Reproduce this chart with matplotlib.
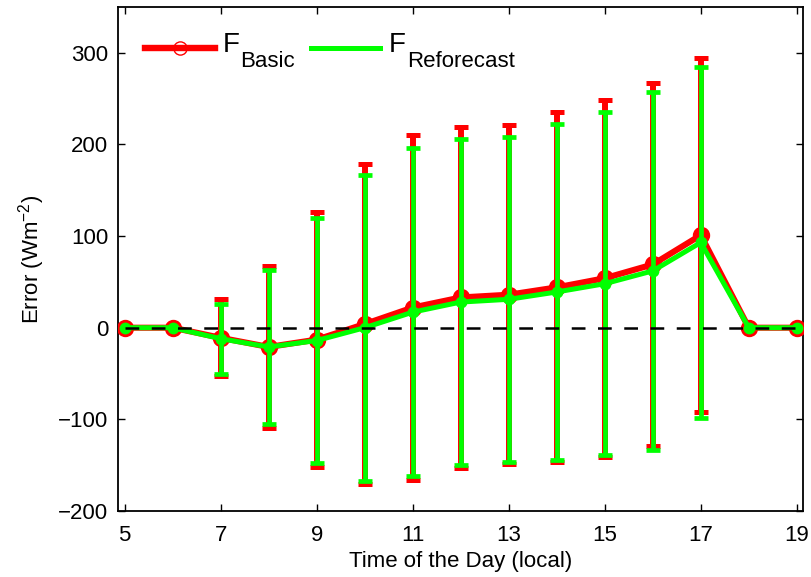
import numpy as np
import matplotlib
matplotlib.use('Agg')
import matplotlib.pyplot as plt

plt.rcParams['font.family'] = ['Liberation Sans', 'DejaVu Sans']
plt.rcParams['mathtext.default'] = 'regular'

# Hora local y error medio +- desviación
horas = np.arange(5, 20)
err_basic = np.array([0, 0, -11, -21, -13, 4, 22, 33, 36, 44, 54, 69, 101, 0, 0])
std_basic = np.array([0, 0, 42, 88, 139, 175, 188, 186, 185, 191, 195, 198, 193, 0, 0])
err_refc = np.array([0, 0, -12, -21, -14, 0, 17, 28, 31, 39, 48, 62, 93, 0, 0])
std_refc = np.array([0, 0, 38, 84, 134, 167, 179, 178, 177, 183, 187, 195, 191, 0, 0])

rojo = '#ff0000'
verde = '#00ff00'

fig = plt.figure(figsize=(8.12, 5.77), dpi=100)
ax = fig.add_axes([0.1453, 0.1144, 0.8436, 0.8735])

# F_Basic (debajo)
m = std_basic > 0
ax.errorbar(horas[m], err_basic[m], yerr=std_basic[m], fmt='none', ecolor=rojo,
            elinewidth=4.3, capsize=4.7, capthick=3.6, zorder=2)
ax.plot(horas, err_basic, '-o', color=rojo, lw=4.4, ms=10, mew=2.5,
        mfc=rojo, mec=rojo, zorder=3)

# F_Reforecast (encima)
m = std_refc > 0
ax.errorbar(horas[m], err_refc[m], yerr=std_refc[m], fmt='none', ecolor=verde,
            elinewidth=3.4, capsize=4.7, capthick=3.4, zorder=4)
ax.plot(horas, err_refc, '-o', color=verde, lw=3.6, ms=8.5, mew=0,
        mfc=verde, zorder=5)

# línea de cero
ax.plot([5, 19], [0, 0], color='k', lw=1.8, dashes=(5.5, 5.0), zorder=6)

ax.set_xlim(4.86, 19.13)
ax.set_ylim(-200, 350)
ax.set_xticks(np.arange(5, 20, 2))
ax.set_yticks(np.arange(-200, 301, 100))
ax.tick_params(direction='in', top=True, right=True, length=5, width=1,
               labelsize=16, pad=10)
ax.tick_params(axis='y', pad=7)
for s in ax.spines.values():
    s.set_linewidth(1.3)

ax.set_xlabel('Time of the Day (local)', fontsize=16, labelpad=4)
ax.set_ylabel('Error (Wm$^{-2}$)', fontsize=16, labelpad=8)

# leyenda a mano (subíndices grandes, como en MATLAB)
tr = ax.transAxes
ax.plot([0.0394, 0.1416], [0.9192, 0.9192], color=rojo, lw=4.6,
        transform=tr, clip_on=False, zorder=7)
ax.plot([0.0905], [0.9192], 'o', ms=9.5, mfc='none', mec=rojo, mew=1,
        transform=tr, clip_on=False, zorder=8)
ax.text(0.1533, 0.9113, 'F', fontsize=20, va='baseline', transform=tr)
ax.text(0.1781, 0.8815, 'Basic', fontsize=16, va='baseline', transform=tr)

ax.plot([0.2813, 0.3825], [0.9192, 0.9192], color=verde, lw=3.6,
        transform=tr, clip_on=False, zorder=7)
ax.text(0.3956, 0.9113, 'F', fontsize=20, va='baseline', transform=tr)
ax.text(0.4215, 0.8815, 'Reforecast', fontsize=16, va='baseline', transform=tr)

fig.savefig('out.png', dpi=100)
